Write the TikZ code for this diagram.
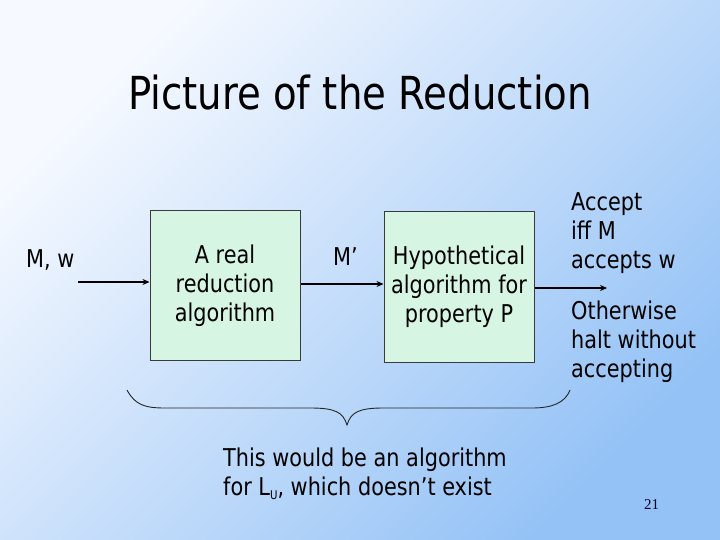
\documentclass[tikz,border=0pt]{standalone}
\usepackage{fontspec}
\setmainfont{DejaVu Sans}[FakeStretch=0.85]
\newfontfamily\numfont{Liberation Serif}
\usetikzlibrary{arrows.meta}
\definecolor{bgtop}{HTML}{F6F9FF}
\definecolor{bgbot}{HTML}{94C2F6}
\definecolor{boxfill}{HTML}{D6F5E2}
\definecolor{boxline}{HTML}{3A3A3A}
\tikzset{
  body/.style={font=\fontsize{24.5}{29}\selectfont, inner sep=0pt, text=black},
  algbox/.style={draw=boxline, line width=1pt, fill=boxfill, minimum width=150pt, minimum height=150pt, inner sep=0pt, align=center, body},
  flow/.style={line width=1.8pt, -{Stealth[length=7pt,width=6pt]}},
  bracestyle/.style={draw=black!85, line width=0.9pt}
}
\begin{document}
\begin{tikzpicture}[x=1pt,y=-1pt]
\useasboundingbox (0,0) rectangle (720,540);
\shade[top color=bgtop, bottom color=bgbot, shading angle=45] (0,0) rectangle (720,540);

\node[anchor=base, inner sep=0pt, font=\fontsize{45.5}{54}\selectfont] (title) at (360,110) {Picture of the Reduction};

\node[body, anchor=base west] (mw) at (26,267) {M, w};
\node[algbox] (box1) at (225,285.5) {A real\\reduction\\algorithm};
\node[body, anchor=base west] (mp) at (333,265) {M’};
\node[algbox] (box2) at (459,287) {Hypothetical\\algorithm for\\property P};

\node[body, anchor=base west, align=left] (acc) at (571,268) {Accept\\iff M\\accepts w};
\node[body, anchor=base west, align=left] (oth) at (571,377) {Otherwise\\halt without\\accepting};

\coordinate (in1) at (78,282);
\coordinate (out3) at (607,288);
\draw[flow] (in1) -- (box1.west |- in1);
\draw[flow] (box1.east |- 0,284) -- (box2.west |- 0,284);
\draw[flow] (box2.east |- out3) -- (out3);

\draw[bracestyle] (127,390) .. controls (135,405) and (145,408) .. (165,408) -- (310,408)
  .. controls (335,408) and (343,412) .. (347,425)
  .. controls (351,412) and (359,408) .. (384,408) -- (532,408)
  .. controls (552,408) and (565,403) .. (570,390);

\node[body, anchor=base west, align=left] (concl) at (223,495) {This would be an algorithm\\for L\raisebox{-4pt}{\fontsize{12}{12}\selectfont U}, which doesn’t exist};

\node[anchor=base west, inner sep=0pt, font=\numfont\fontsize{15}{18}\selectfont, text=black!85!blue] (pg) at (644,509) {21};
\end{tikzpicture}
\end{document}
